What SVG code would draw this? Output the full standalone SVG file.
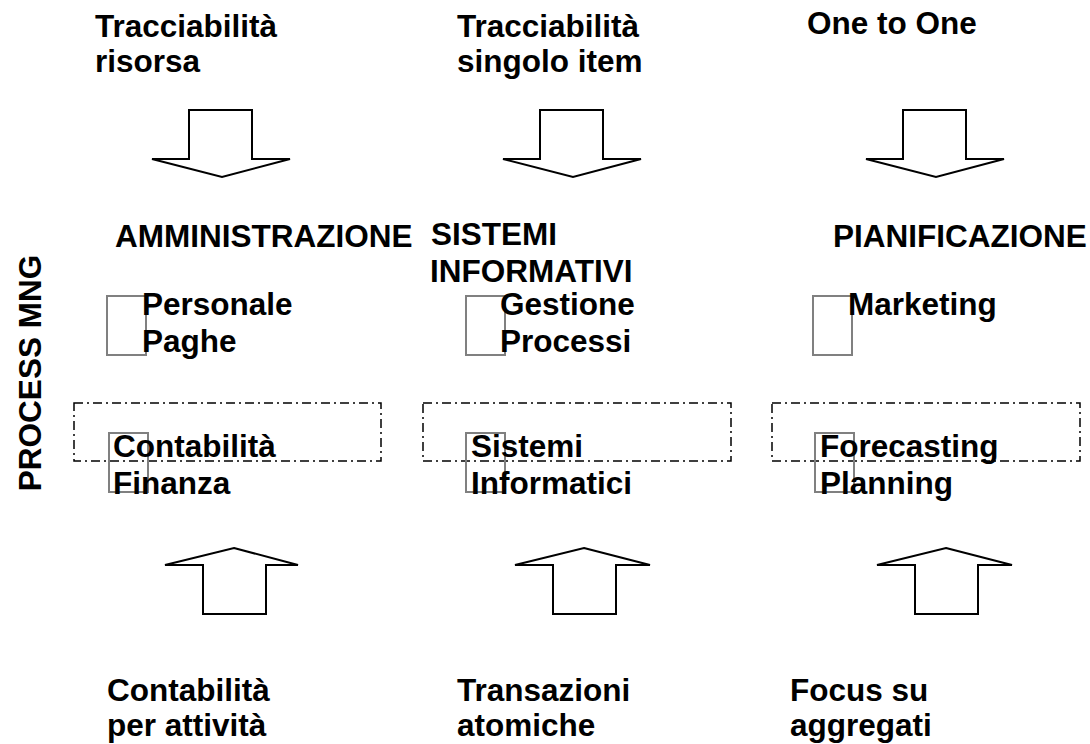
<svg xmlns="http://www.w3.org/2000/svg" width="1090" height="744" viewBox="0 0 1090 744">
<style>
text{font-family:"Liberation Sans",Arial,sans-serif;font-weight:bold;font-size:31.5px;fill:#000}
.box{fill:none;stroke:#808080;stroke-width:2}
.grp{fill:none;stroke:#000;stroke-width:1.5;stroke-dasharray:9,4,2,4}
.arr{fill:#fff;stroke:#000;stroke-width:2;stroke-linejoin:miter}
</style>
<rect width="1090" height="744" fill="#fff"/>
<g id="top-labels">
<text x="95" y="37">Tracciabilità</text><text x="95" y="72">risorsa</text>
<text x="457" y="37">Tracciabilità</text><text x="457" y="72">singolo item</text>
<text x="807" y="34">One to One</text>
</g>
<g id="connectors">
<polygon class="arr" points="189,110 252,110 252,159 290,159 222,177 152,159 189,159"/>
<polygon class="arr" points="540,110 603,110 603,159 641,159 573,177 503,159 540,159"/>
<polygon class="arr" points="903,110 966,110 966,159 1004,159 936,177 866,159 903,159"/>
<polygon class="arr" points="234,548 298,565 266,565 266,614 203,614 203,565 165,565"/>
<polygon class="arr" points="584,548 650,565 616,565 616,614 553,614 553,565 515,565"/>
<polygon class="arr" points="946,548 1012,565 978,565 978,614 915,614 915,565 877,565"/>
</g>
<g id="headers">
<text x="115" y="247">AMMINISTRAZIONE</text>
<text x="431" y="245">SISTEMI</text><text x="430" y="282">INFORMATIVI</text>
<text x="833" y="247">PIANIFICAZIONE</text>
</g>
<g id="side-label"><text transform="translate(41,373) rotate(-90)" text-anchor="middle" font-size="28">PROCESS MNG</text></g>
<g id="group-left"><rect class="grp" x="74" y="403" width="307" height="58"/></g>
<g id="group-mid"><rect class="grp" x="423" y="403" width="308" height="58"/></g>
<g id="group-right"><rect class="grp" x="772" y="403" width="308" height="58"/></g>
<g id="node-personale"><rect class="box" x="107" y="296" width="39" height="59"/><text x="142" y="315">Personale</text><text x="142" y="352">Paghe</text></g>
<g id="node-gestione"><rect class="box" x="466" y="296" width="39" height="59"/><text x="500" y="315">Gestione</text><text x="500" y="352">Processi</text></g>
<g id="node-marketing"><rect class="box" x="813" y="296" width="39" height="59"/><text x="848" y="315">Marketing</text></g>
<g id="node-contabilita"><rect class="box" x="109" y="433" width="39" height="59"/><text x="113" y="457">Contabilità</text><text x="113" y="494">Finanza</text></g>
<g id="node-sistemi"><rect class="box" x="466" y="433" width="39" height="59"/><text x="471" y="457">Sistemi</text><text x="471" y="494">Informatici</text></g>
<g id="node-forecasting"><rect class="box" x="815" y="433" width="39" height="59"/><text x="820" y="457">Forecasting</text><text x="820" y="494">Planning</text></g>
<g id="bottom-labels">
<text x="107" y="701">Contabilità</text><text x="107" y="736">per attività</text>
<text x="457" y="701">Transazioni</text><text x="457" y="736">atomiche</text>
<text x="790" y="701">Focus su</text><text x="790" y="736">aggregati</text>
</g>
</svg>
